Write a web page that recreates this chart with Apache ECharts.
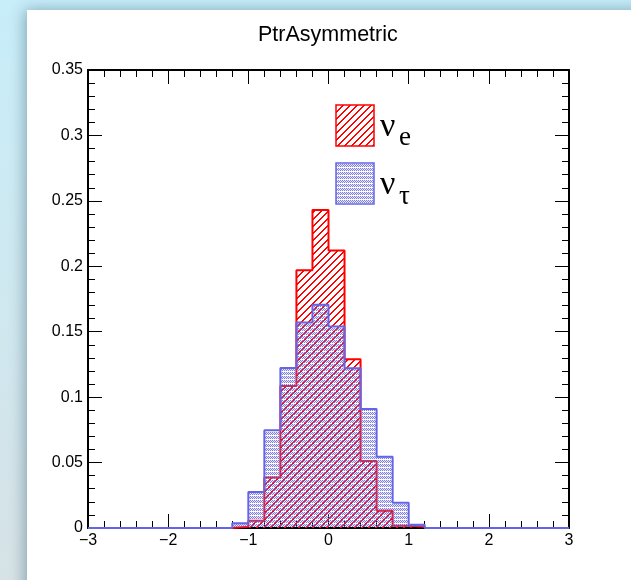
<!DOCTYPE html>
<html>
<head>
<meta charset="utf-8">
<script src="https://cdn.jsdelivr.net/npm/echarts@6/dist/echarts.min.js"></script>
<style>
html,body{margin:0;padding:0;background:#fff;}
#c{width:631px;height:580px;}
</style>
</head>
<body>
<div id="c"></div>
<script>
// ---- data ----
const chartTitle = 'PtrAsymmetric';
const binLow = [-1.2, -1.0, -0.8, -0.6, -0.4, -0.2, 0.0, 0.2, 0.4, 0.6, 0.8, 1.0];
const binWidth = 0.2;
const nuE   = [0.001, 0.0056, 0.0385, 0.1086, 0.197, 0.243, 0.212, 0.129, 0.0512, 0.0132, 0.0018, 0.001];
const nuTau = [0.0036, 0.0275, 0.0747, 0.1223, 0.157, 0.1707, 0.154, 0.122, 0.091, 0.0545, 0.0193, 0.0025];
const xRange = [-3, 3];
const yRange = [0, 0.35];
const xTicks = [-3, -2, -1, 0, 1, 2, 3];
const yTicks = [0, 0.05, 0.1, 0.15, 0.2, 0.25, 0.3, 0.35];

// ---- patterns ----
function hatchPattern() {
  const s = 7;
  const c = document.createElement('canvas');
  c.width = s; c.height = s;
  const g = c.getContext('2d');
  g.fillStyle = '#ff0000';
  for (let i = 0; i < s; i++) {
    g.fillRect(i, s - 1 - i, 1, 1);
    g.fillRect((i + 1) % s, s - 1 - i, 1, 1);
  }
  return c;
}
function dotPattern() {
  const c = document.createElement('canvas');
  c.width = 4; c.height = 4;
  const g = c.getContext('2d');
  g.fillStyle = 'rgba(95,95,222,0.8)';
  for (let y = 0; y < 3; y++) {
    for (let x = 0; x < 4; x++) {
      if ((x + y) % 2 === 0) g.fillRect(x, y, 1, 1);
    }
  }
  g.fillStyle = 'rgba(150,150,235,0.2)';
  for (let y = 0; y < 3; y++) {
    for (let x = 0; x < 4; x++) {
      if ((x + y) % 2 === 1) g.fillRect(x, y, 1, 1);
    }
  }
  return c;
}
const redFill = { image: hatchPattern(), repeat: 'repeat' };
const blueFill = { image: dotPattern(), repeat: 'repeat' };

function stepData(vals, full) {
  const first = binLow[0];
  const last = binLow[binLow.length - 1] + binWidth;
  const d = [[full ? xRange[0] : first, 0]];
  for (let i = 0; i < binLow.length; i++) d.push([binLow[i], vals[i]]);
  d.push([last, 0]);
  if (full) d.push([xRange[1], 0]);
  return d;
}

const fontSans = '"Liberation Sans", Arial, Helvetica, sans-serif';
const fontSerif = '"Liberation Serif", "Times New Roman", serif';
const minus = v => String(v).replace('-', '\u2212');

const axisLineStyle = { color: '#000', width: 2 };
function xAxisCfg(pos, showLabel) {
  return {
    type: 'value', position: pos, min: xRange[0], max: xRange[1], interval: 1,
    axisLine: { show: true, onZero: false, lineStyle: axisLineStyle },
    axisTick: { show: true, inside: true, length: 14, lineStyle: { color: '#000', width: 1 } },
    minorTick: { show: true, splitNumber: 5, length: 7, lineStyle: { color: '#000', width: 1 } },
    axisLabel: { show: showLabel, color: '#000', fontSize: 16, fontFamily: fontSans, margin: 5,
      formatter: v => xTicks.includes(v) ? minus(v) : '' },
    splitLine: { show: false }, minorSplitLine: { show: false }
  };
}
function yAxisCfg(pos, showLabel) {
  return {
    type: 'value', position: pos, min: yRange[0], max: yRange[1], interval: 0.05,
    axisLine: { show: true, onZero: false, lineStyle: axisLineStyle },
    axisTick: { show: true, inside: true, length: 14, lineStyle: { color: '#000', width: 1 } },
    minorTick: { show: true, splitNumber: 5, length: 7, lineStyle: { color: '#000', width: 1 } },
    axisLabel: { show: showLabel, color: '#000', fontSize: 16, fontFamily: fontSans, margin: 5,
      formatter: v => { const t = yTicks.find(k => Math.abs(k - v) < 1e-9); return t === undefined ? '' : String(t); } },
    splitLine: { show: false }, minorSplitLine: { show: false }
  };
}

const chart = echarts.init(document.getElementById('c'), null, { renderer: 'canvas' });
chart.setOption({
  animation: false,
  backgroundColor: {
    type: 'linear', x: 0, y: 0, x2: 0, y2: 1,
    colorStops: [{ offset: 0, color: '#c8eefa' }, { offset: 1, color: '#d6e2e6' }]
  },
  title: {
    text: chartTitle, left: 253, top: 19,
    textStyle: { fontSize: 21.5, fontWeight: 'normal', color: '#000', fontFamily: fontSans }
  },
  grid: { left: 88, right: 62, top: 70, bottom: 52, containLabel: false },
  xAxis: [xAxisCfg('bottom', true), xAxisCfg('top', false)],
  yAxis: [yAxisCfg('left', true), yAxisCfg('right', false)],
  graphic: [
    { type: 'rect', z: -10, zlevel: 0, silent: true,
      shape: { x: 27, y: 10, width: 620, height: 590 },
      style: { fill: '#ffffff', shadowBlur: 14, shadowColor: 'rgba(40,80,100,0.45)', shadowOffsetX: -2, shadowOffsetY: 0 } },
    { type: 'rect', z: 100, shape: { x: 336, y: 105, width: 38, height: 41 },
      style: { fill: redFill, stroke: '#ff0000', lineWidth: 1.5 } },
    { type: 'rect', z: 100, shape: { x: 336, y: 163, width: 38, height: 41 },
      style: { fill: blueFill, stroke: '#6464e6', lineWidth: 1.5 } },
    { type: 'text', z: 100, x: 380, y: 144, style: { text: 'ν', font: '34px ' + fontSerif, fill: '#000', verticalAlign: 'bottom' } },
    { type: 'text', z: 100, x: 399, y: 151, style: { text: 'e', font: '27px ' + fontSerif, fill: '#000', verticalAlign: 'bottom' } },
    { type: 'text', z: 100, x: 380, y: 202, style: { text: 'ν', font: '34px ' + fontSerif, fill: '#000', verticalAlign: 'bottom' } },
    { type: 'text', z: 100, x: 399, y: 210, style: { text: 'τ', font: '27px ' + fontSerif, fill: '#000', verticalAlign: 'bottom' } }
  ],
  series: [
    {
      name: 'nu_e', type: 'line', step: 'end', data: stepData(nuE, false),
      xAxisIndex: 0, yAxisIndex: 0, showSymbol: false, symbol: 'none', z: 3,
      lineStyle: { color: '#ff0000', width: 2 },
      areaStyle: { color: redFill, opacity: 1 }
    },
    {
      name: 'nu_tau', type: 'line', step: 'end', data: stepData(nuTau, true),
      xAxisIndex: 0, yAxisIndex: 0, showSymbol: false, symbol: 'none', z: 4,
      lineStyle: { color: '#6464e6', width: 2 },
      areaStyle: { color: blueFill, opacity: 1 }
    }
  ]
});
</script>
</body>
</html>
